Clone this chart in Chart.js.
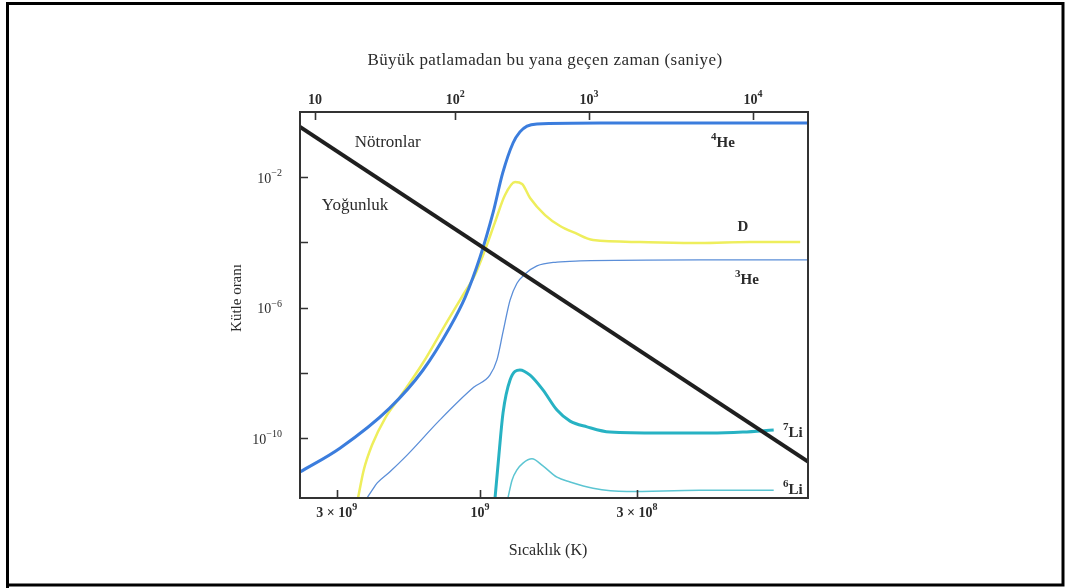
<!DOCTYPE html>
<html>
<head>
<meta charset="utf-8">
<script src="https://cdn.jsdelivr.net/npm/chart.js@4.4.1/dist/chart.umd.min.js"></script>
<style>
  html, body { margin: 0; padding: 0; background: #fff; }
  #wrap { position: relative; width: 1065px; height: 588px; }
</style>
</head>
<body>
<div id="wrap"><canvas id="bbnChart" width="1065" height="588"></canvas></div>
<script>
// Eksenler
const tempMin = 8.07e7, tempMax = 3.98e9;
const massMin = 1.45e-12, massMax = 1;
const tempTicks = [3e9, 1e9, 3e8];
const tempTickLabels = ['3 × 10⁹', '10⁹', '3 × 10⁸'];
// zaman etiketleri, altta karşılık geldikleri sıcaklıklar
const timeTicks = [3.55e9, 1.21e9, 4.33e8, 1.23e8];
const timeTickLabels = ['10', '10²', '10³', '10⁴'];
const massTicks = [1e-2, 1e-4, 1e-6, 1e-8, 1e-10];
const massTickLabels = ['10⁻²', '', '10⁻⁶', '', '10⁻¹⁰'];

// Eğriler (sıcaklık, kütle oranı)
const densityT = [3.98e9, 8.07e7];
const densityY = [0.35, 1.9e-11];

const he4T = [3.98e9, 2.93e9, 2.0e9, 1.55e9, 1.26e9, 1.12e9, 1.0e9, 9.05e8, 8.4e8, 7.76e8, 7.36e8, 6.97e8, 6.46e8, 3.98e8, 8.07e7];
const he4Y = [9.1e-12, 4.9e-11, 8.3e-10, 1.2e-8, 2.5e-7, 2.1e-6, 3.5e-5, 8e-4, 1.35e-2, 0.112, 0.245, 0.37, 0.43, 0.46, 0.46];

const dT = [2.55e9, 2.44e9, 2.29e9, 2.07e9, 1.85e9, 1.55e9, 1.29e9, 1.14e9, 1.04e9, 9.62e8, 8.91e8, 8.26e8, 7.64e8, 7.24e8, 6.81e8, 6.07e8, 5.41e8, 4.82e8, 4.2e8, 2.93e8, 1.85e8, 1.26e8, 8.57e7];
const dY = [1.45e-12, 1.05e-11, 6.1e-11, 4.1e-10, 1.8e-9, 2.0e-8, 3.6e-7, 2.4e-6, 1.0e-5, 5.9e-5, 4.2e-4, 2.8e-3, 7.1e-3, 6.2e-3, 2.3e-3, 6.9e-4, 3.2e-4, 1.95e-4, 1.18e-4, 1.03e-4, 9.6e-5, 1.03e-4, 1.03e-4];

const he3T = [2.38e9, 2.29e9, 2.2e9, 2.0e9, 1.75e9, 1.36e9, 1.05e9, 9.27e8, 8.78e8, 8.38e8, 7.94e8, 7.53e8, 7.08e8, 6.46e8, 5.54e8, 4.64e8, 1.85e8, 8.07e7];
const he3Y = [1.45e-12, 2.5e-12, 4.2e-12, 9.1e-12, 3.0e-11, 3.6e-10, 3.6e-9, 8.5e-9, 2.5e-8, 1.8e-7, 1.7e-6, 5.6e-6, 1.07e-5, 1.9e-5, 2.5e-5, 2.7e-5, 2.9e-5, 2.9e-5];

const li7T = [8.91e8, 8.65e8, 8.38e8, 7.94e8, 7.36e8, 6.81e8, 6.17e8, 5.54e8, 5.01e8, 4.4e8, 3.69e8, 2.51e8, 1.71e8, 1.33e8, 1.05e8];
const li7Y = [1.45e-12, 3.0e-11, 5.9e-10, 6.0e-9, 1.23e-8, 8.5e-9, 3.0e-9, 7.2e-10, 3.3e-10, 2.2e-10, 1.52e-10, 1.42e-10, 1.42e-10, 1.52e-10, 1.77e-10];

const li6T = [8.07e8, 7.82e8, 7.53e8, 7.19e8, 6.71e8, 6.17e8, 5.54e8, 5.01e8, 4.2e8, 3.24e8, 1.85e8, 1.05e8];
const li6Y = [1.45e-12, 5.1e-12, 1.05e-11, 1.7e-11, 2.3e-11, 1.4e-11, 6.3e-12, 4.5e-12, 2.9e-12, 2.3e-12, 2.5e-12, 2.5e-12];

// Grafik içi yazılar: metin, sıcaklık, oran
const notes = [
  { text: 'Nötronlar', t: 2.03e9, v: 0.112, bold: false },
  { text: 'Yoğunluk', t: 2.61e9, v: 1.4e-3, bold: false },
  { text: '⁴He', t: 1.55e8, v: 0.112, bold: true },
  { text: 'D', t: 1.33e8, v: 2.95e-4, bold: true },
  { text: '³He', t: 1.29e8, v: 7.1e-6, bold: true },
  { text: '⁷Li', t: 9.06e7, v: 1.42e-10, bold: true },
  { text: '⁶Li', t: 9.06e7, v: 2.5e-12, bold: true }
];

const SERIF = '"Liberation Serif", "DejaVu Serif", serif';
const INK = '#2b2b2b';
const SUP = { '⁰': '0', '¹': '1', '²': '2', '³': '3', '⁴': '4', '⁵': '5', '⁶': '6', '⁷': '7', '⁸': '8', '⁹': '9', '⁻': '−' };

function pts(ts, ys) {
  return ts.map((t, i) => ({ x: t, y: ys[i] }));
}

function curve(label, ts, ys, color, width) {
  return {
    label: label,
    data: pts(ts, ys),
    borderColor: color,
    borderWidth: width,
    pointRadius: 0,
    fill: false,
    cubicInterpolationMode: 'monotone'
  };
}

// üst simgeli yazı: '10⁻²' gibi dizgeleri parça parça çizer
function richText(ctx, str, x, y, size, weight, align) {
  const runs = [];
  for (const ch of str) {
    const sup = ch in SUP;
    const c = sup ? SUP[ch] : ch;
    const last = runs[runs.length - 1];
    if (last && last.sup === sup) last.text += c;
    else runs.push({ text: c, sup: sup });
  }
  const supSize = Math.round(size * 0.72);
  const fontOf = r => weight + ' ' + (r.sup ? supSize : size) + 'px ' + SERIF;
  let total = 0;
  runs.forEach(r => { ctx.font = fontOf(r); r.w = ctx.measureText(r.text).width; total += r.w; });
  let cx = align === 'right' ? x - total : align === 'center' ? x - total / 2 : x;
  ctx.textAlign = 'left';
  ctx.textBaseline = 'middle';
  runs.forEach(r => {
    ctx.font = fontOf(r);
    ctx.fillText(r.text, cx, r.sup ? y - size * 0.4 : y);
    cx += r.w;
  });
}

// çerçeve, içe dönük çentikler, başlıklar ve yazılar
const decorPlugin = {
  id: 'decor',
  afterDraw(chart) {
    const ctx = chart.ctx;
    const a = chart.chartArea;
    const sx = chart.scales.x, sxt = chart.scales.xTop, sy = chart.scales.y;
    ctx.save();

    // sayfa kenarı
    ctx.strokeStyle = '#000';
    ctx.lineWidth = 3;
    ctx.beginPath();
    ctx.moveTo(7.5, 588);
    ctx.lineTo(7.5, 3.5);
    ctx.lineTo(1063, 3.5);
    ctx.lineTo(1063, 585);
    ctx.lineTo(7.5, 585);
    ctx.stroke();

    // grafik çerçevesi
    ctx.strokeStyle = '#333';
    ctx.lineWidth = 2;
    ctx.strokeRect(a.left, a.top, a.right - a.left, a.bottom - a.top);

    ctx.lineWidth = 1.6;
    ctx.beginPath();
    massTicks.forEach(v => {
      const y = Math.round(sy.getPixelForValue(v)) + 0.5;
      ctx.moveTo(a.left, y); ctx.lineTo(a.left + 8, y);
    });
    tempTicks.forEach(v => {
      const x = Math.round(sx.getPixelForValue(v)) + 0.5;
      ctx.moveTo(x, a.bottom); ctx.lineTo(x, a.bottom - 8);
    });
    timeTicks.forEach(v => {
      const x = Math.round(sxt.getPixelForValue(v)) + 0.5;
      ctx.moveTo(x, a.top); ctx.lineTo(x, a.top + 8);
    });
    ctx.stroke();

    // çentik yazıları
    ctx.fillStyle = INK;
    massTicks.forEach((v, i) => {
      if (massTickLabels[i]) richText(ctx, massTickLabels[i], a.left - 18, sy.getPixelForValue(v) + 2, 14, 'normal', 'right');
    });
    tempTicks.forEach((v, i) => {
      richText(ctx, tempTickLabels[i], sx.getPixelForValue(v), a.bottom + 15, 14, 'bold', 'center');
    });
    timeTicks.forEach((v, i) => {
      richText(ctx, timeTickLabels[i], sxt.getPixelForValue(v), a.top - 12, 14, 'bold', 'center');
    });

    // eksen başlıkları
    const cx = (a.left + a.right) / 2;
    ctx.textAlign = 'center';
    ctx.textBaseline = 'middle';
    ctx.font = '17px ' + SERIF;
    ctx.letterSpacing = '0.4px';
    ctx.fillText('Büyük patlamadan bu yana geçen zaman (saniye)', cx - 9, 61);
    ctx.letterSpacing = '0px';
    ctx.font = '16px ' + SERIF;
    ctx.fillText('Sıcaklık (K)', cx - 6, 551);
    ctx.save();
    ctx.translate(237, 298);
    ctx.rotate(-Math.PI / 2);
    ctx.font = '15px ' + SERIF;
    ctx.fillText('Kütle oranı', 0, 0);
    ctx.restore();

    // eğri adları
    notes.forEach(n => {
      const px = sx.getPixelForValue(n.t), py = sy.getPixelForValue(n.v);
      if (n.bold) richText(ctx, n.text, px, py, 15, 'bold', 'center');
      else {
        ctx.font = '17px ' + SERIF;
        ctx.textAlign = 'center';
        ctx.fillText(n.text, px, py);
      }
    });
    ctx.restore();
  }
};

const hiddenTicks = { display: false };

new Chart(document.getElementById('bbnChart'), {
  type: 'line',
  data: {
    datasets: [
      curve('Yoğunluk', densityT, densityY, '#1f1f1f', 4),
      curve('⁴He', he4T, he4Y, '#3b7ddd', 3),
      curve('⁷Li', li7T, li7Y, '#27b2c3', 3),
      curve('⁶Li', li6T, li6Y, '#5cc5d2', 1.5),
      curve('³He', he3T, he3Y, '#5b8ed8', 1.3),
      curve('D', dT, dY, '#eeee5c', 2.5)
    ]
  },
  options: {
    responsive: false,
    animation: false,
    devicePixelRatio: 1,
    layout: { padding: { left: 0, right: 257, top: 0, bottom: 0 } },
    plugins: { legend: { display: false }, tooltip: { enabled: false } },
    scales: {
      x: {
        type: 'logarithmic',
        position: 'bottom',
        reverse: true,
        min: tempMin,
        max: tempMax,
        afterBuildTicks: s => { s.ticks = tempTicks.map(v => ({ value: v })); },
        afterFit: s => { s.height = 90; },
        grid: { display: false, drawTicks: false },
        border: { display: false },
        ticks: hiddenTicks
      },
      xTop: {
        type: 'logarithmic',
        position: 'top',
        reverse: true,
        min: tempMin,
        max: tempMax,
        afterBuildTicks: s => { s.ticks = timeTicks.map(v => ({ value: v })); },
        afterFit: s => { s.height = 112; },
        grid: { display: false, drawTicks: false },
        border: { display: false },
        ticks: hiddenTicks
      },
      y: {
        type: 'logarithmic',
        position: 'left',
        min: massMin,
        max: massMax,
        afterBuildTicks: s => { s.ticks = massTicks.map(v => ({ value: v })); },
        afterFit: s => { s.width = 300; },
        grid: { display: false, drawTicks: false },
        border: { display: false },
        ticks: hiddenTicks
      }
    }
  },
  plugins: [decorPlugin]
});
</script>
</body>
</html>
